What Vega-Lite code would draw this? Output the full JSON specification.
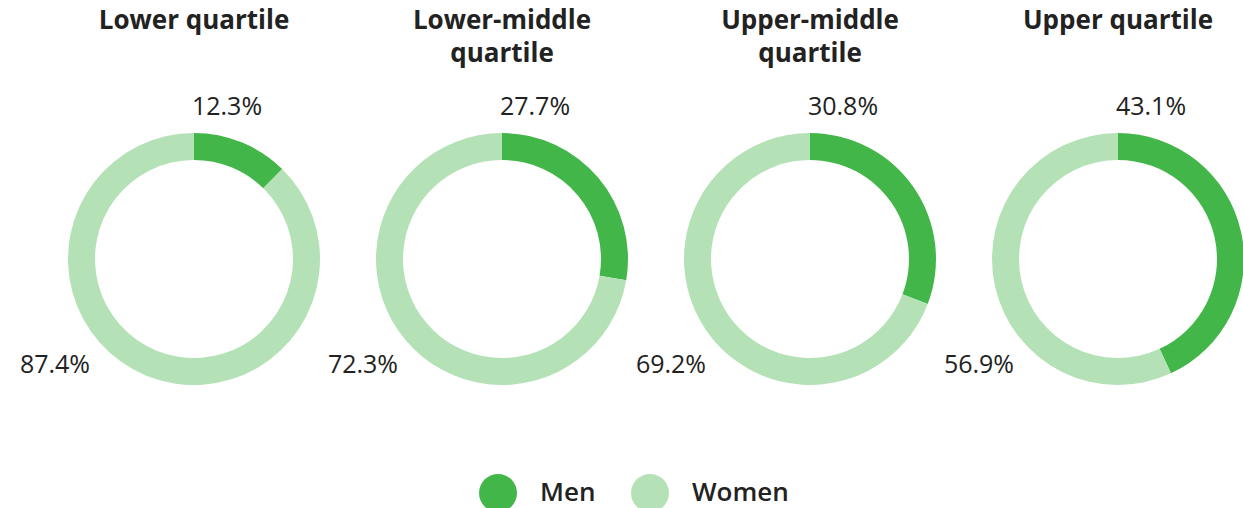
{
  "$schema": "https://vega.github.io/schema/vega-lite/v6.json",
  "padding": {"left": 19, "top": 8, "right": 0, "bottom": 0},
  "background": "white",
  "data": {
    "values": [
      {"quartile": "Lower quartile", "gender": "Men", "share": 0.123},
      {"quartile": "Lower quartile", "gender": "Women", "share": 0.874},
      {"quartile": "Lower-middle quartile", "gender": "Men", "share": 0.277},
      {"quartile": "Lower-middle quartile", "gender": "Women", "share": 0.723},
      {"quartile": "Upper-middle quartile", "gender": "Men", "share": 0.308},
      {"quartile": "Upper-middle quartile", "gender": "Women", "share": 0.692},
      {"quartile": "Upper quartile", "gender": "Men", "share": 0.431},
      {"quartile": "Upper quartile", "gender": "Women", "share": 0.569}
    ]
  },
  "config": {
    "view": {"stroke": null},
    "font": "Open Sans",
    "title": {"font": "Open Sans", "fontSize": 26, "fontWeight": 700, "color": "#222222", "lineHeight": 33, "baseline": "top", "offset": 28},
    "concat": {"spacing": 28}
  },
  "bounds": "flush",
  "hconcat": [
    {
      "title": {"text": ["Lower quartile", ""]},
      "width": 280, "height": 280,
      "transform": [{"filter": "datum.quartile === 'Lower quartile'"}],
      "layer": [
        {"mark": {"type": "arc", "radius": 126, "radius2": 99}, "encoding": {"theta": {"field": "share", "type": "quantitative", "stack": true}, "color": {"field": "gender", "type": "nominal", "scale": {"domain": ["Men", "Women"], "range": ["#43b649", "#b5e1b7"]}, "legend": {"title": null, "orient": "none", "direction": "horizontal", "legendX": 425, "legendY": 355, "symbolType": "circle", "symbolSize": 1444, "symbolStrokeWidth": 0, "symbolOpacity": 1, "labelFontSize": 26, "labelFont": "Open Sans", "labelFontWeight": 600, "labelColor": "#222222", "labelOffset": 23, "columnPadding": 35}}}},
        {"transform": [{"filter": "datum.gender === 'Men'"}], "mark": {"type": "text", "theta": 0.214, "radius": 155.5, "align": "center", "baseline": "middle", "fontSize": 25, "color": "#222222"}, "encoding": {"text": {"field": "share", "type": "quantitative", "format": ".1%"}}},
        {"transform": [{"filter": "datum.gender === 'Women'"}], "mark": {"type": "text", "theta": 3.917, "radius": 148.5, "align": "right", "baseline": "middle", "fontSize": 25, "color": "#222222"}, "encoding": {"text": {"field": "share", "type": "quantitative", "format": ".1%"}}}
      ]
    },
    {
      "title": {"text": ["Lower-middle", "quartile"]},
      "width": 280, "height": 280,
      "transform": [{"filter": "datum.quartile === 'Lower-middle quartile'"}],
      "layer": [
        {"mark": {"type": "arc", "radius": 126, "radius2": 99}, "encoding": {"theta": {"field": "share", "type": "quantitative", "stack": true}, "color": {"field": "gender", "type": "nominal"}}},
        {"transform": [{"filter": "datum.gender === 'Men'"}], "mark": {"type": "text", "theta": 0.214, "radius": 155.5, "align": "center", "baseline": "middle", "fontSize": 25, "color": "#222222"}, "encoding": {"text": {"field": "share", "type": "quantitative", "format": ".1%"}}},
        {"transform": [{"filter": "datum.gender === 'Women'"}], "mark": {"type": "text", "theta": 3.917, "radius": 148.5, "align": "right", "baseline": "middle", "fontSize": 25, "color": "#222222"}, "encoding": {"text": {"field": "share", "type": "quantitative", "format": ".1%"}}}
      ]
    },
    {
      "title": {"text": ["Upper-middle", "quartile"]},
      "width": 280, "height": 280,
      "transform": [{"filter": "datum.quartile === 'Upper-middle quartile'"}],
      "layer": [
        {"mark": {"type": "arc", "radius": 126, "radius2": 99}, "encoding": {"theta": {"field": "share", "type": "quantitative", "stack": true}, "color": {"field": "gender", "type": "nominal"}}},
        {"transform": [{"filter": "datum.gender === 'Men'"}], "mark": {"type": "text", "theta": 0.214, "radius": 155.5, "align": "center", "baseline": "middle", "fontSize": 25, "color": "#222222"}, "encoding": {"text": {"field": "share", "type": "quantitative", "format": ".1%"}}},
        {"transform": [{"filter": "datum.gender === 'Women'"}], "mark": {"type": "text", "theta": 3.917, "radius": 148.5, "align": "right", "baseline": "middle", "fontSize": 25, "color": "#222222"}, "encoding": {"text": {"field": "share", "type": "quantitative", "format": ".1%"}}}
      ]
    },
    {
      "title": {"text": ["Upper quartile", ""]},
      "width": 280, "height": 280,
      "transform": [{"filter": "datum.quartile === 'Upper quartile'"}],
      "layer": [
        {"mark": {"type": "arc", "radius": 126, "radius2": 99}, "encoding": {"theta": {"field": "share", "type": "quantitative", "stack": true}, "color": {"field": "gender", "type": "nominal"}}},
        {"transform": [{"filter": "datum.gender === 'Men'"}], "mark": {"type": "text", "theta": 0.214, "radius": 155.5, "align": "center", "baseline": "middle", "fontSize": 25, "color": "#222222"}, "encoding": {"text": {"field": "share", "type": "quantitative", "format": ".1%"}}},
        {"transform": [{"filter": "datum.gender === 'Women'"}], "mark": {"type": "text", "theta": 3.917, "radius": 148.5, "align": "right", "baseline": "middle", "fontSize": 25, "color": "#222222"}, "encoding": {"text": {"field": "share", "type": "quantitative", "format": ".1%"}}}
      ]
    }
  ]
}
